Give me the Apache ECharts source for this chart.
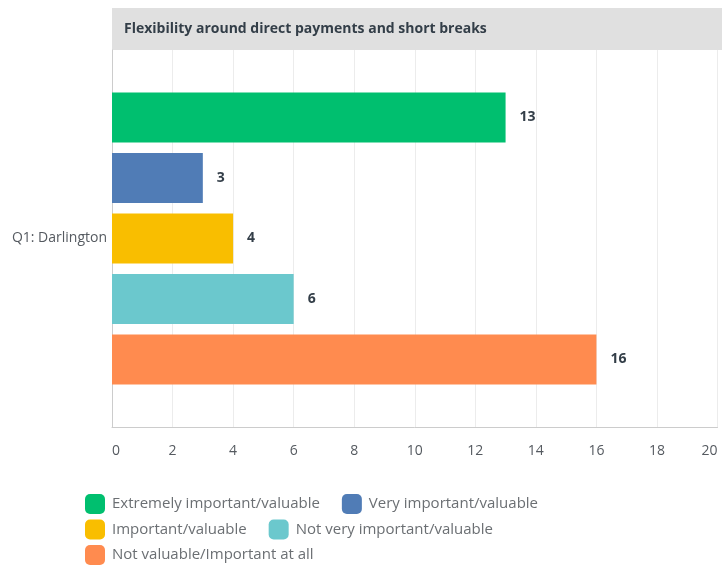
<!DOCTYPE html>
<html>
<head>
<meta charset="utf-8">
<script src="https://cdn.jsdelivr.net/npm/echarts@6/dist/echarts.min.js"></script>
<style>
  html, body { margin: 0; padding: 0; background: #fff; }
  #main { width: 722px; height: 567px; }
</style>
</head>
<body>
<div id="main"></div>
<script>
var categories = ['Q1: Darlington'];
var seriesNames = [
    'Extremely important/valuable',
    'Very important/valuable',
    'Important/valuable',
    'Not very important/valuable',
    'Not valuable/Important at all'
];
var seriesValues = [[13], [3], [4], [6], [16]];
var seriesColors = ['#00bf6f', '#507cb6', '#f9be00', '#6bc8cd', '#ff8b4f'];
var chartTitle = 'Flexibility around direct payments and short breaks';

// legend rows as in the picture
var legendRows = [[0, 1], [2, 3], [4]];

var FONT = '"Open Sans", sans-serif';

var series = seriesNames.map(function (name, i) {
    return {
        name: name,
        type: 'bar',
        data: seriesValues[i],
        barWidth: 50,
        barGap: '21%',
        itemStyle: { color: seriesColors[i] },
        label: {
            show: true,
            position: 'right',
            distance: 14,
            color: '#333e48',
            fontWeight: 'bold',
            fontSize: 14,
            fontFamily: FONT
        }
    };
});

var legends = legendRows.map(function (row, r) {
    return {
        data: row.map(function (i) { return seriesNames[i]; }),
        left: 85,
        top: 494 + r * 25.5,
        icon: 'roundRect',
        itemWidth: 20,
        itemHeight: 20,
        itemGap: 22,
        padding: 0,
        textStyle: {
            fontSize: 15,
            color: '#6b6f73',
            fontFamily: FONT,
            padding: [0, 0, 0, 2]
        }
    };
});

var myChart = echarts.init(document.getElementById('main'));
myChart.setOption({
    animation: false,
    graphic: [{
        type: 'rect',
        shape: { x: 112, y: 8, width: 610, height: 42 },
        style: { fill: '#e0e0e0' },
        z: 0
    }],
    title: {
        text: chartTitle,
        left: 112,
        top: 22,
        textStyle: {
            fontSize: 14,
            fontWeight: 'bold',
            color: '#333e48',
            fontFamily: FONT
        },
        padding: [0, 0, 0, 12]
    },
    legend: legends,
    grid: {
        left: 112,
        right: 4.5,
        top: 50,
        bottom: 140,
        containLabel: false
    },
    xAxis: {
        type: 'value',
        min: 0,
        max: 20,
        interval: 2,
        axisLine: { show: true, lineStyle: { color: '#cccccc' } },
        axisTick: { show: false },
        splitLine: { show: true, lineStyle: { color: '#ececec' } },
        axisLabel: {
            color: '#555a60',
            fontSize: 14,
            fontFamily: FONT,
            margin: 17,
            alignMinLabel: 'left',
            alignMaxLabel: 'right'
        }
    },
    yAxis: {
        type: 'category',
        data: categories,
        inverse: true,
        axisLine: { show: true, lineStyle: { color: '#cccccc' } },
        axisTick: { show: false },
        axisLabel: {
            color: '#555a60',
            fontSize: 14,
            fontFamily: FONT,
            margin: 5
        }
    },
    series: series
});
</script>
</body>
</html>
